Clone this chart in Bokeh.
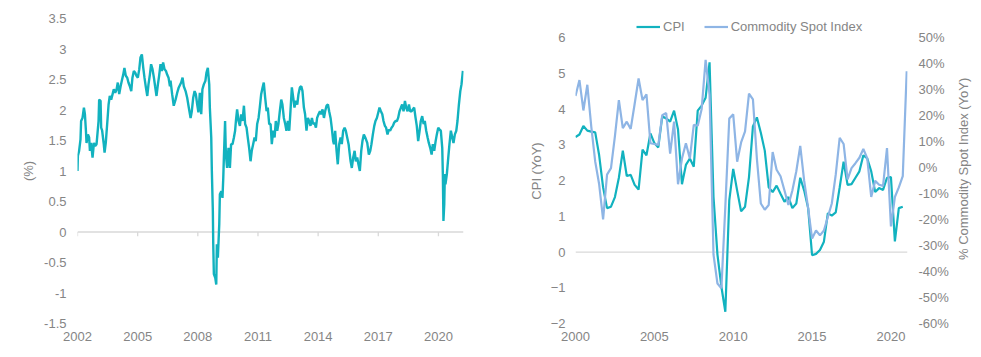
import math
from bokeh.plotting import figure
from bokeh.layouts import row
from bokeh.models import Range1d, LinearAxis, FixedTicker, Span, Legend, LegendItem
from bokeh.core.properties import value
from bokeh.embed import file_html
from bokeh.resources import INLINE

# ---------------- Left chart: daily-ish inflation expectation (%) ----------------
be_year = [
    2002.00, 2002.02, 2002.08, 2002.15, 2002.18, 2002.25, 2002.32, 2002.37, 2002.42, 2002.45,
    2002.52, 2002.58, 2002.62, 2002.68, 2002.75, 2002.82, 2002.88, 2002.95, 2002.98, 2003.05,
    2003.08, 2003.15, 2003.18, 2003.23, 2003.31, 2003.35, 2003.41, 2003.48, 2003.55, 2003.61,
    2003.68, 2003.75, 2003.81, 2003.88, 2003.95, 2004.01, 2004.08, 2004.15, 2004.21, 2004.28,
    2004.34, 2004.41, 2004.48, 2004.54, 2004.61, 2004.68, 2004.74, 2004.81, 2004.88, 2004.94,
    2005.01, 2005.08, 2005.14, 2005.21, 2005.28, 2005.34, 2005.41, 2005.48, 2005.54, 2005.61,
    2005.67, 2005.74, 2005.81, 2005.87, 2005.94, 2006.01, 2006.07, 2006.14, 2006.21, 2006.27,
    2006.34, 2006.41, 2006.47, 2006.54, 2006.61,
    2006.64, 2006.72, 2006.80, 2006.89, 2006.97, 2007.05, 2007.17, 2007.24, 2007.30, 2007.39,
    2007.47, 2007.55, 2007.64, 2007.70, 2007.77, 2007.84, 2007.90, 2007.97, 2008.03, 2008.10,
    2008.17, 2008.23, 2008.30, 2008.38, 2008.43, 2008.50, 2008.57, 2008.60, 2008.67, 2008.70,
    2008.75, 2008.77, 2008.80, 2008.87, 2008.92, 2008.95, 2009.00, 2009.07, 2009.10, 2009.17,
    2009.23, 2009.27, 2009.30, 2009.36, 2009.40, 2009.46, 2009.53, 2009.60, 2009.66, 2009.73,
    2009.80, 2009.86, 2009.90, 2009.96, 2010.03, 2010.10, 2010.16, 2010.23, 2010.30, 2010.36,
    2010.43, 2010.49, 2010.56, 2010.63, 2010.69, 2010.76, 2010.83, 2010.89, 2010.96, 2011.03,
    2011.09, 2011.16, 2011.23, 2011.29, 2011.36, 2011.43, 2011.49, 2011.56,
    2011.63, 2011.69, 2011.76, 2011.83, 2011.89, 2011.96, 2012.02, 2012.09, 2012.16, 2012.22,
    2012.29, 2012.36, 2012.42, 2012.49, 2012.56, 2012.62, 2012.69, 2012.76, 2012.82, 2012.89,
    2012.96, 2013.02, 2013.09, 2013.16, 2013.22, 2013.29, 2013.35, 2013.42, 2013.49, 2013.55,
    2013.62, 2013.69, 2013.75, 2013.82, 2013.89, 2013.95, 2014.02, 2014.09, 2014.15, 2014.22,
    2014.29, 2014.35, 2014.42, 2014.49, 2014.55, 2014.62, 2014.68, 2014.75, 2014.79, 2014.85,
    2014.92, 2014.98, 2015.05, 2015.12, 2015.18, 2015.25, 2015.32, 2015.38, 2015.45, 2015.52,
    2015.58, 2015.62, 2015.68, 2015.75, 2015.82, 2015.88, 2015.95, 2016.01, 2016.08, 2016.15,
    2016.21, 2016.28, 2016.35,
    2016.45, 2016.53, 2016.60, 2016.66, 2016.73, 2016.80, 2016.86, 2016.93, 2017.00, 2017.06,
    2017.13, 2017.20, 2017.26, 2017.33, 2017.39, 2017.46, 2017.53, 2017.59, 2017.66, 2017.73,
    2017.79, 2017.86, 2017.93, 2017.99, 2018.06, 2018.13, 2018.19, 2018.26, 2018.33, 2018.39,
    2018.46, 2018.53, 2018.59, 2018.66, 2018.72, 2018.79, 2018.86, 2018.92, 2018.99, 2019.06,
    2019.12, 2019.19, 2019.26, 2019.32, 2019.39, 2019.46, 2019.52, 2019.59, 2019.66, 2019.72,
    2019.79, 2019.86, 2019.92, 2019.99, 2020.05, 2020.12, 2020.19, 2020.22, 2020.25, 2020.29,
    2020.32, 2020.35, 2020.42, 2020.49, 2020.55, 2020.62, 2020.69, 2020.75, 2020.82, 2020.89,
    2020.95, 2021.02, 2021.09, 2021.15, 2021.22,
]
be_value = [
    1.00, 1.25, 1.33, 1.52, 1.82, 1.87, 2.04, 1.93, 1.66, 1.46,
    1.60, 1.55, 1.33, 1.46, 1.22, 1.46, 1.41, 1.44, 1.55, 1.82,
    2.17, 2.15, 1.71, 1.66, 1.44, 1.30, 1.46, 1.77, 2.09, 2.23,
    2.17, 2.26, 2.34, 2.28, 2.34, 2.45, 2.26, 2.39, 2.48, 2.58,
    2.69, 2.56, 2.53, 2.45, 2.39, 2.31, 2.53, 2.64, 2.61, 2.56,
    2.53, 2.67, 2.86, 2.91, 2.69, 2.53, 2.37, 2.23, 2.42, 2.58,
    2.75, 2.67, 2.53, 2.39, 2.23, 2.42, 2.56, 2.75, 2.64, 2.78,
    2.67, 2.64, 2.58, 2.53, 2.39,
    2.48, 2.26, 2.07, 2.17, 2.28, 2.37, 2.45, 2.53, 2.39, 2.31,
    2.20, 2.04, 1.87, 1.98, 2.20, 2.31, 2.26, 2.09, 1.96, 2.28,
    1.93, 2.34, 2.42, 2.48, 2.61, 2.69, 2.42, 2.04, 1.55, 1.00,
    0.34, -0.20, -0.69, -0.75, -0.86, -0.20, -0.42, 0.13, 0.62, 0.67,
    0.56, 0.89, 1.22, 1.82, 1.27, 1.05, 1.38, 1.05, 1.44, 1.44,
    1.55, 1.66, 1.82, 2.01, 1.82, 1.74, 1.93, 1.82, 2.07, 1.77,
    1.71, 1.55, 1.38, 1.16, 1.33, 1.44, 1.55, 1.49, 1.77, 1.87,
    2.04, 2.26, 2.37, 2.45, 2.20, 1.98, 2.04, 1.77,
    1.77, 1.44, 1.66, 1.55, 1.82, 1.66, 1.77, 1.98, 2.17, 2.09,
    1.87, 1.77, 1.66, 1.82, 1.66, 1.98, 2.37, 2.20, 2.04, 2.15,
    2.09, 2.26, 2.37, 2.39, 2.31, 2.04, 1.93, 1.66, 1.87, 1.82,
    1.74, 1.87, 1.77, 1.79, 1.71, 1.87, 1.93, 1.98, 1.93, 2.01,
    1.87, 1.98, 2.07, 2.09, 1.98, 1.87, 1.71, 1.49, 1.44, 1.66,
    1.33, 1.11, 1.44, 1.55, 1.44, 1.66, 1.71, 1.66, 1.55, 1.44,
    1.27, 1.16, 1.05, 1.22, 1.33, 1.16, 1.22, 1.11, 1.00, 1.33,
    1.49, 1.60, 1.55,
    1.46, 1.27, 1.33, 1.44, 1.60, 1.74, 1.82, 1.87, 1.96, 2.04,
    1.98, 1.93, 1.82, 1.74, 1.71, 1.60, 1.68, 1.66, 1.71, 1.74,
    1.79, 1.82, 1.82, 1.87, 1.98, 2.04, 2.09, 1.98, 2.15, 2.04,
    1.98, 2.09, 1.98, 1.98, 2.01, 2.04, 1.87, 1.74, 1.49, 1.66,
    1.82, 1.90, 1.77, 1.82, 1.66, 1.55, 1.46, 1.38, 1.27, 1.44,
    1.33, 1.49, 1.60, 1.71, 1.68, 1.66, 1.38, 0.95, 0.18, 0.45,
    0.95, 0.78, 0.95, 1.22, 1.44, 1.66, 1.55, 1.46, 1.60, 1.66,
    1.82, 2.09, 2.31, 2.42, 2.64,
]
assert len(be_year) == len(be_value)

left_xticks = [2002, 2005, 2008, 2011, 2014, 2017, 2020]
left_yticks = [-1.5, -1, -0.5, 0, 0.5, 1, 1.5, 2, 2.5, 3, 3.5]
left_ytick_labels = ["-1.5", "-1", "-0.5", "0", "0.5", "1", "1.5", "2", "2.5", "3", "3.5"]

# ---------------- Right chart: quarterly CPI and commodity index ----------------
quarters = [2000 + q / 4 for q in range(85)]  # 2000Q1 .. 2021Q1
cpi = [
    3.22, 3.29, 3.53, 3.40, 3.37, 3.35, 2.71, 1.81, 1.23, 1.27,
    1.54, 2.08, 2.84, 2.13, 2.16, 1.88, 1.75, 2.87, 2.71, 3.32,
    3.05, 2.93, 3.80, 3.74, 3.65, 3.96, 3.43, 1.90, 2.44, 2.62,
    2.39, 3.96, 4.10, 4.32, 5.31, 1.54, -0.07, -0.97, -1.67, 1.45,
    2.33, 1.72, 1.14, 1.27, 2.10, 3.52, 3.77, 3.34, 2.84, 1.81,
    1.68, 1.86, 1.63, 1.41, 1.54, 1.23, 1.36, 2.08, 1.72, 1.23,
    -0.09, -0.05, 0.06, 0.29, 1.09, 1.02, 1.11, 1.81, 2.53, 1.88,
    1.90, 2.08, 2.26, 2.71, 2.62, 2.26, 1.68, 1.79, 1.74, 2.08,
    2.10, 0.30, 1.23, 1.27,
]
commodity = [
    27.6, 33.7, 22.0, 31.9, 15.8, 2.3, -6.4, -19.9, -2.7, -0.2,
    12.1, 26.0, 15.2, 17.7, 14.9, 24.5, 34.3, 26.0, 28.2, 9.4,
    9.1, 8.7, 20.2, 21.0, 5.4, 17.7, -6.4, 3.5, 9.4, 3.5,
    16.5, 16.1, 22.6, 41.5, 28.0, -33.5, -44.6, -46.4, -15.0, 18.9,
    20.5, 2.3, 9.7, 14.0, 28.5, 26.3, 3.5, -13.8, -16.2, -14.4,
    6.0, -0.8, -3.3, -8.8, -14.4, -8.8, -1.4, 8.4, -5.1, -15.6,
    -27.3, -24.2, -26.1, -24.2, -19.0, -13.8, -2.7, 11.5, 9.1, -4.5,
    -0.2, 1.7, 3.8, 7.2, 3.5, -11.3, -5.1, -6.6, -7.0, 7.5,
    -22.6, -11.3, -7.6, -3.3, 37.1,
]
right_xticks = [2000, 2005, 2010, 2015, 2020]
cpi_ticks = [-2, -1, 0, 1, 2, 3, 4, 5, 6]
pct_ticks = [-60, -50, -40, -30, -20, -10, 0, 10, 20, 30, 40, 50]
pct_labels = ["-60%", "-50%", "-40%", "-30%", "-20%", "-10%", "0%", "10%", "20%", "30%", "40%", "50%"]
right_axis_title = "% Commodity Spot Index (YoY)"

TEAL = "#12b2bf"
BLUE = "#8eb5e5"
TXT = "#858585"
ZERO = "#d9d9d9"
FONT = "Liberation Sans"
FS = "13px"


def style_axis(ax):
    ax.axis_line_color = None
    ax.major_tick_line_color = None
    ax.minor_tick_line_color = None
    ax.major_tick_out = 0
    ax.major_tick_in = 0
    ax.minor_tick_out = 0
    ax.major_label_text_font = FONT
    ax.major_label_text_font_size = FS
    ax.major_label_text_color = TXT
    ax.axis_label_text_font = FONT
    ax.axis_label_text_font_size = FS
    ax.axis_label_text_color = TXT
    ax.axis_label_text_font_style = "normal"


def clean(p):
    p.xgrid.visible = False
    p.ygrid.visible = False
    p.outline_line_color = None
    p.background_fill_color = "white"
    p.border_fill_color = "white"


# ---------------- Left figure ----------------
p1 = figure(width=490, height=357, output_backend="svg", toolbar_location=None,
            x_range=Range1d(2002, 2021.25), y_range=Range1d(-1.5, 3.5),
            min_border_left=77, min_border_right=27, min_border_top=18, min_border_bottom=34)
clean(p1)

p1.add_layout(Span(location=0, dimension="width", line_color=ZERO, line_width=1.3, level="underlay"))
p1.segment(x0=left_xticks, y0=[0] * len(left_xticks), x1=left_xticks, y1=[-0.07] * len(left_xticks),
           line_color=ZERO, line_width=1.3, level="underlay")
p1.line(be_year, be_value, line_color=TEAL, line_width=2.4)

style_axis(p1.xaxis[0])
p1.xaxis[0].ticker = FixedTicker(ticks=left_xticks)
p1.xaxis[0].major_label_standoff = 8
style_axis(p1.yaxis[0])
p1.yaxis[0].ticker = FixedTicker(ticks=left_yticks)
p1.yaxis[0].major_label_overrides = {t: l for t, l in zip(left_yticks, left_ytick_labels)}
p1.yaxis[0].major_label_standoff = 11
p1.yaxis[0].axis_label = "(%)"
p1.yaxis[0].axis_label_standoff = 5

# ---------------- Right figure ----------------
# frame extends a little above the top tick so the legend can sit at the top
R_TOP_PAD = 20 / 37.125           # extra CPI units above 6
P_TOP_PAD = 20 * 110 / 297         # extra % units above 50
p2 = figure(width=461, height=357, output_backend="svg", toolbar_location=None,
            x_range=Range1d(2000, 2021.05), y_range=Range1d(-2, 6 + R_TOP_PAD),
            min_border_left=85, min_border_right=43, min_border_top=8, min_border_bottom=32)
clean(p2)
p2.extra_y_ranges = {"pct": Range1d(-60, 50 + P_TOP_PAD)}

p2.add_layout(Span(location=0, dimension="width", line_color=ZERO, line_width=1.3, level="underlay"))
cpi_r = p2.line(quarters[:len(cpi)], cpi, line_color=TEAL, line_width=2.2)
com_r = p2.line(quarters[:len(commodity)], commodity, line_color=BLUE, line_width=2.2, y_range_name="pct")

style_axis(p2.xaxis[0])
p2.xaxis[0].ticker = FixedTicker(ticks=right_xticks)
p2.xaxis[0].major_label_standoff = 8
style_axis(p2.yaxis[0])
p2.yaxis[0].ticker = FixedTicker(ticks=cpi_ticks)
p2.yaxis[0].major_label_standoff = 10
p2.yaxis[0].axis_label = "CPI (YoY)"
p2.yaxis[0].axis_label_standoff = 4

ax_r = LinearAxis(y_range_name="pct", ticker=FixedTicker(ticks=pct_ticks))
style_axis(ax_r)
ax_r.major_label_overrides = {t: l for t, l in zip(pct_ticks, pct_labels)}
ax_r.major_label_standoff = 11
p2.add_layout(ax_r, "right")

legend = Legend(items=[LegendItem(label="CPI", renderers=[cpi_r]),
                       LegendItem(label="Commodity Spot Index", renderers=[com_r])],
                orientation="horizontal", location=(61, 289),
                glyph_width=24, glyph_height=13, label_standoff=3, spacing=19,
                padding=0, margin=0, border_line_color=None, background_fill_alpha=0,
                label_text_font=FONT, label_text_font_size=FS, label_text_color=TXT,
                label_height=13)
p2.add_layout(legend)

# ---------------- Narrow strip holding the right axis title (reads bottom-to-top) ----------------
p3 = figure(width=30, height=357, output_backend="svg", toolbar_location=None,
            x_range=Range1d(0, 30), y_range=Range1d(0, 357),
            x_axis_location=None, y_axis_location=None, min_border=0)
clean(p3)
p3.text(x=[11.5], y=[181], text=[right_axis_title], angle=math.pi / 2,
        text_align="center", text_baseline="middle",
        text_font=value(FONT), text_font_size=value(FS), text_color=TXT)

layout = row(p1, p2, p3)
open("out.html", "w").write(file_html(layout, INLINE))
